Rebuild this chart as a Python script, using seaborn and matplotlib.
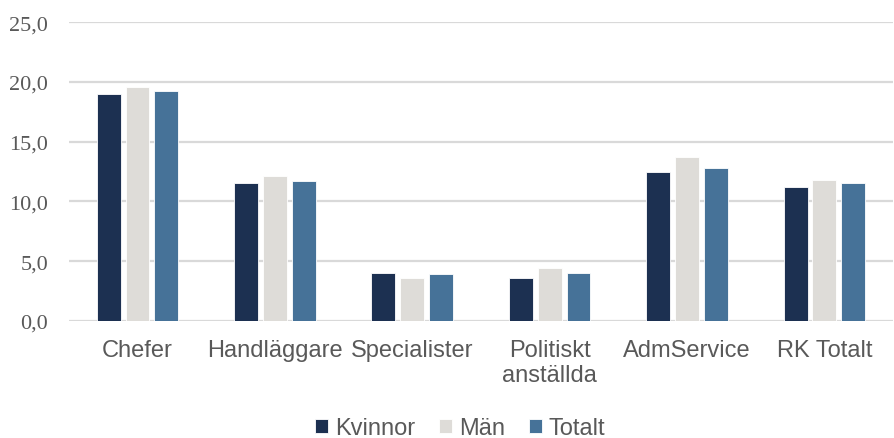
import pandas as pd
import matplotlib
matplotlib.use("Agg")
import matplotlib.pyplot as plt
import seaborn as sns
from matplotlib.ticker import FuncFormatter, MultipleLocator

# -------------------------
# DATA
# -------------------------
categories = ["Chefer", "Handläggare", "Specialister", "Politiskt\nanställda", "AdmService", "RK Totalt"]
kvinnor = [19.0, 11.5, 4.0, 3.6, 12.5, 11.2]
man = [19.6, 12.1, 3.6, 4.4, 13.7, 11.8]
totalt = [19.2, 11.7, 3.9, 4.0, 12.8, 11.5]
series = ["Kvinnor", "Män", "Totalt"]
colors = ["#1c3051", "#dedcd8", "#467298"]

df = pd.DataFrame({
    "kategori": categories * 3,
    "grupp": [s for s in series for _ in categories],
    "varde": kvinnor + man + totalt,
})

# -------------------------
# PLOT
# -------------------------
sns.set_theme(style="white")
plt.rcParams['font.family'] = ['Liberation Sans', 'DejaVu Sans']

fig = plt.figure(figsize=(8.94, 4.39), dpi=100)
ax = fig.add_axes([0.077, 0.2665, 0.922, 0.681])

sns.barplot(data=df, x="kategori", y="varde", hue="grupp", order=categories,
            hue_order=series, palette=colors, saturation=1, width=0.63, gap=0.17,
            edgecolor="white", linewidth=0.6, ax=ax, zorder=3)

ax.set_ylim(0, 25)
ax.set_xlim(-0.5, 5.5)
ax.yaxis.set_major_locator(MultipleLocator(5))
ax.yaxis.set_major_formatter(FuncFormatter(lambda v, p: f"{v:.1f}".replace(".", ",")))
ax.grid(axis="y", color="#d9d9d9", linewidth=1.6, zorder=0)
ax.set_axisbelow(True)
for s in ax.spines.values():
    s.set_visible(False)

ax.set_xlabel("")
ax.set_ylabel("")
ax.tick_params(axis="x", length=0, pad=13, labelsize=17, labelcolor="#595959")
ax.tick_params(axis="y", length=0, pad=15, labelsize=16, labelcolor="#595959")
for lab in ax.get_yticklabels():
    lab.set_family(['Liberation Serif', 'DejaVu Serif'])
for lab in ax.get_xticklabels():
    lab.set_linespacing(1.15)

ax.get_legend().remove()
handles, labels = ax.get_legend_handles_labels()
fig.legend(handles, labels, loc="center", bbox_to_anchor=(0.515, 0.022), ncol=3,
           frameon=False, fontsize=17, labelcolor="#595959", handlelength=0.55,
           handleheight=0.55, handletextpad=0.3, columnspacing=1.0)

plt.savefig("out.png", dpi=100)
